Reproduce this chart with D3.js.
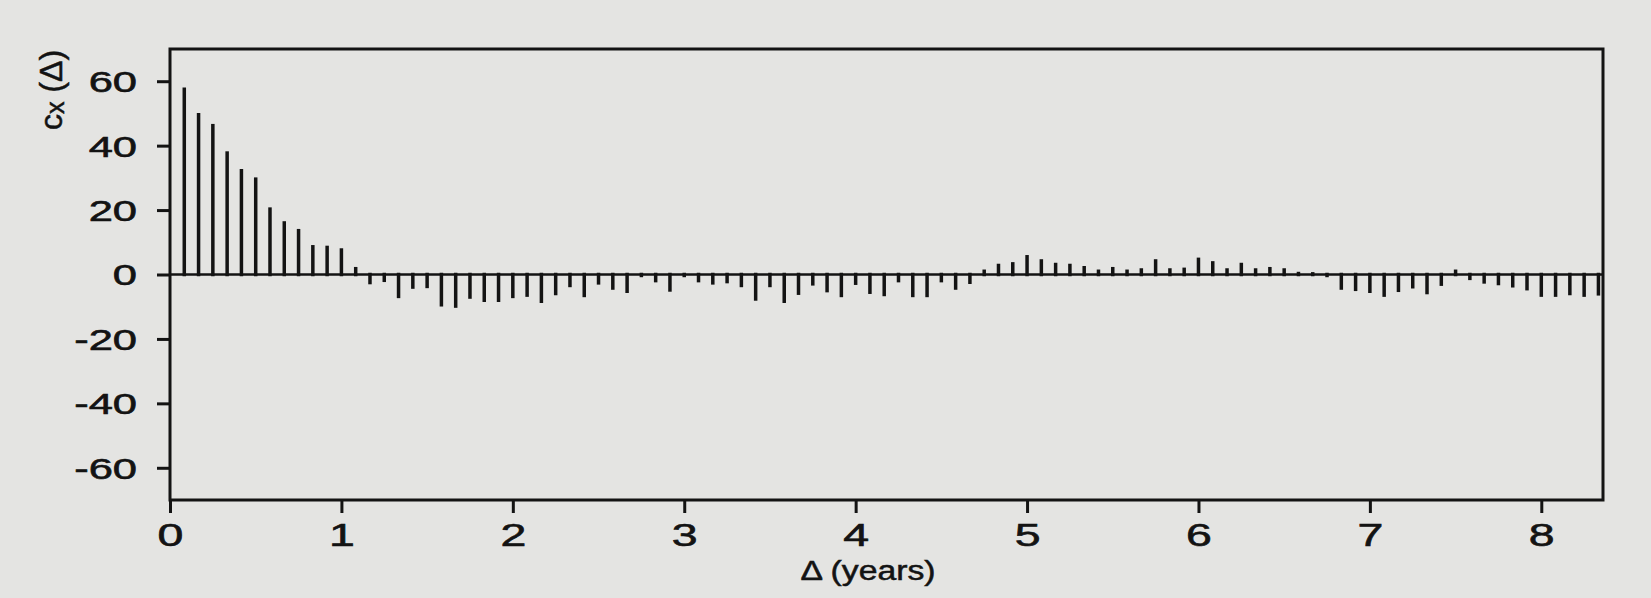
<!DOCTYPE html>
<html>
<head>
<meta charset="utf-8">
<script src="https://cdn.jsdelivr.net/npm/d3@7"></script>
<style>
  body { margin: 0; background: #e4e4e2; }
  svg { display: block; }
</style>
</head>
<body>
<div id="graph"></div>
<script>
// autocovariance c_x(Δ), one stick per monthly lag
var lagMonths = d3.range(1, 101);
var covValues = [
  57.5, 49.6, 46.2, 37.7, 32.2, 29.6, 20.3, 16.0, 13.6, 8.6, 8.4, 7.6,
  1.8, -2.5, -1.8, -6.8, -3.9, -3.7, -9.4, -9.8, -7.0, -8.0, -8.0, -6.8,
  -6.4, -8.3, -5.9, -3.4, -6.5, -2.6, -4.2, -5.2, -0.3, -1.9, -4.8, -0.3,
  -1.9, -2.6, -2.2, -3.4, -7.6, -3.4, -8.3, -5.8, -2.9, -5.0, -6.5, -2.7,
  -5.5, -6.2, -1.9, -6.5, -6.5, -1.9, -4.2, -2.4, 1.0, 2.8, 3.3, 5.5,
  4.2, 3.1, 2.8, 2.1, 1.0, 1.8, 1.0, 1.4, 4.2, 1.4, 1.6, 4.7,
  3.6, 1.4, 3.1, 1.4, 1.8, 1.4, 0.3, 0.2, -0.3, -4.2, -4.6, -5.2,
  -6.4, -4.9, -3.8, -5.6, -3.0, 1.0, -1.2, -2.3, -2.8, -3.5, -4.4, -6.4,
  -6.4, -5.9, -6.4, -6.0
];
var xTicks = [0, 1, 2, 3, 4, 5, 6, 7, 8];
var yTicks = [-60, -40, -20, 0, 20, 40, 60];

var donnees = lagMonths.map(function(m, i) {
    return {years: m / 12, value: covValues[i]};
});

var ink = "#131313";
var font = "'Liberation Sans', Arial, Helvetica, sans-serif";

var svg = d3.select("#graph").append("svg")
    .attr("width", 1651)
    .attr("height", 598);

var x = d3.scaleLinear().domain([0, 8.36]).range([170, 1603]),
    y = d3.scaleLinear().domain([-70, 70]).range([500, 49]);

// axes (domain lines removed, frame drawn below)
var gx = svg.append("g")
    .attr("transform", "translate(0," + y(-70) + ")")
    .call(d3.axisBottom(x).tickValues(xTicks).tickSize(13).tickFormat(function(d) { return String(d); }));
gx.selectAll("text")
    .attr("y", 46)
    .attr("dy", 0)
    .attr("transform", "scale(1.5,1)")
    .style("font-size", "31px");

var gy = svg.append("g")
    .attr("transform", "translate(" + x(0) + ",0)")
    .call(d3.axisLeft(y).tickValues(yTicks).tickSize(13).tickFormat(function(d) { return String(d); }));
gy.selectAll("text")
    .attr("x", -22)
    .attr("dy", "0.36em")
    .attr("transform", "scale(1.5,1)")
    .style("font-size", "29px");

svg.selectAll(".domain").remove();
svg.selectAll(".tick line").attr("stroke", ink).attr("stroke-width", 3);
svg.selectAll(".tick text")
    .attr("fill", ink)
    .attr("stroke", ink)
    .attr("stroke-width", 0.6)
    .style("font-family", font);

// frame
svg.append("rect")
    .attr("x", x(0))
    .attr("y", y(70))
    .attr("width", x(8.36) - x(0))
    .attr("height", y(-70) - y(70))
    .attr("fill", "none")
    .attr("stroke", ink)
    .attr("stroke-width", 3);

// zero line
svg.append("line")
    .attr("x1", x(0))
    .attr("x2", x(8.36))
    .attr("y1", y(0))
    .attr("y2", y(0))
    .attr("stroke", ink)
    .attr("stroke-width", 2.5);

// sticks
svg.append("g").selectAll("line")
    .data(donnees)
    .enter().append("line")
    .attr("x1", function(d) { return x(d.years); })
    .attr("x2", function(d) { return x(d.years); })
    .attr("y1", y(0))
    .attr("y2", function(d) { return y(d.value); })
    .attr("stroke", ink)
    .attr("stroke-width", 3.5)
    .attr("stroke-linecap", "square");

// titles
svg.append("text")
    .attr("transform", "translate(868,580) scale(1.25,1)")
    .attr("text-anchor", "middle")
    .attr("fill", ink)
    .attr("stroke", ink)
    .attr("stroke-width", 0.5)
    .style("font-family", font)
    .style("font-size", "27px")
    .text("Δ (years)");

var yt = svg.append("text")
    .attr("transform", "translate(62,90) rotate(-90)")
    .attr("text-anchor", "middle")
    .attr("fill", ink)
    .attr("stroke", ink)
    .attr("stroke-width", 0.5)
    .style("font-family", font)
    .style("font-size", "32px");
yt.append("tspan").text("c");
yt.append("tspan").attr("dy", 2).style("font-size", "25px").text("x");
yt.append("tspan").attr("dy", -2).text(" (Δ)");
</script>
</body>
</html>
